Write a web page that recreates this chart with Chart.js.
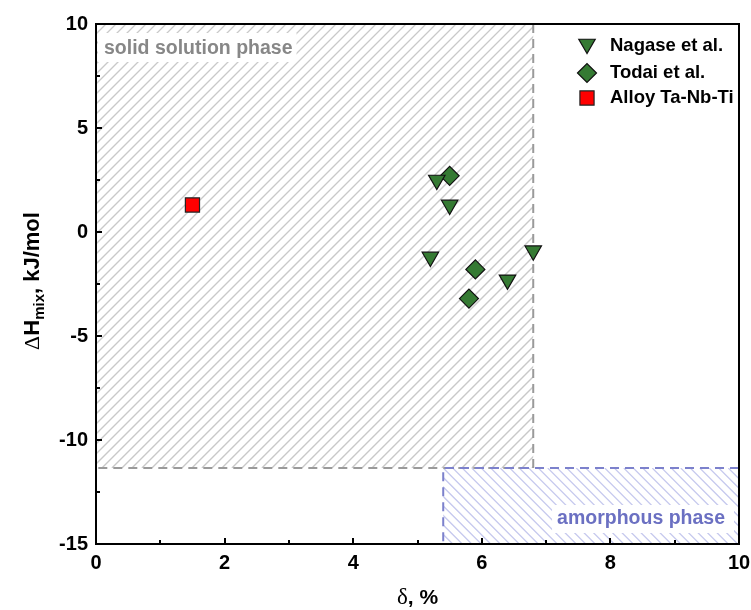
<!DOCTYPE html>
<html lang="en">
<head>
    <meta charset="UTF-8">
    <title>ΔHmix vs δ</title>
    <script src="https://cdn.jsdelivr.net/npm/chart.js"></script>
    <style>
        html, body { margin: 0; padding: 0; background: #fff; }
        #wrap { width: 751px; height: 610px; }
    </style>
</head>
<body>
    <div id="wrap"><canvas id="chart" width="751" height="610"></canvas></div>

    <script>
        // data
        const nagaseDelta = [5.3, 5.5, 5.2, 6.4, 6.8];
        const nagaseH = [2.5, 1.3, -1.2, -2.3, -0.9];
        const todaiDelta = [5.5, 5.9, 5.8];
        const todaiH = [2.7, -1.8, -3.2];
        const alloyDelta = [1.5];
        const alloyH = [1.3];

        const seriesNames = ['Nagase et al.', 'Todai et al.', 'Alloy Ta-Nb-Ti'];
        const xTicks = [0, 2, 4, 6, 8, 10];
        const yTicks = [-15, -10, -5, 0, 5, 10];

        // phase regions (delta range, dH range)
        const solidRegion = { x: [0, 6.8], y: [-11.35, 10] };
        const amorphRegion = { x: [5.4, 10], y: [-15, -11.35] };

        const FONT = '"Liberation Sans", Arial, sans-serif';
        const SERIF = '"Liberation Serif", "DejaVu Serif", serif';
        const green = '#357a33';

        const toPoints = (xs, ys) => xs.map((x, i) => ({ x: x, y: ys[i] }));

        function hatch(ctx, L, T, R, B, dir, color, step) {
            ctx.save();
            ctx.beginPath();
            ctx.rect(L, T, R - L, B - T);
            ctx.clip();
            ctx.strokeStyle = color;
            ctx.lineWidth = 1.3;
            ctx.beginPath();
            const H = B - T;
            for (let c = -H; c < R - L + H; c += step) {
                if (dir > 0) {
                    ctx.moveTo(L + c, B);
                    ctx.lineTo(L + c + H, T);
                } else {
                    ctx.moveTo(L + c, T);
                    ctx.lineTo(L + c + H, B);
                }
            }
            ctx.stroke();
            ctx.restore();
        }

        // draws a run of [text, font, dy] pieces centred on 0
        function drawRun(ctx, parts) {
            let total = 0;
            parts.forEach(p => { ctx.font = p[1]; total += ctx.measureText(p[0]).width; });
            let x = -total / 2;
            parts.forEach(p => {
                ctx.font = p[1];
                ctx.fillText(p[0], x, p[2]);
                x += ctx.measureText(p[0]).width;
            });
        }

        const regionsPlugin = {
            id: 'regions',
            beforeDatasetsDraw(chart) {
                const ctx = chart.ctx;
                const xs = chart.scales.x, ys = chart.scales.y;

                // solid solution region
                const L = xs.getPixelForValue(solidRegion.x[0]);
                const R = xs.getPixelForValue(solidRegion.x[1]);
                const T = ys.getPixelForValue(solidRegion.y[1]);
                const B = ys.getPixelForValue(solidRegion.y[0]);
                hatch(ctx, L, T, R, B, 1, '#c9c9c9', 10);

                // amorphous region
                const aL = xs.getPixelForValue(amorphRegion.x[0]);
                const aR = xs.getPixelForValue(amorphRegion.x[1]);
                const aT = ys.getPixelForValue(amorphRegion.y[1]);
                const aB = ys.getPixelForValue(amorphRegion.y[0]);
                hatch(ctx, aL, aT, aR, aB, -1, '#c6c9ee', 9.5);

                ctx.save();
                ctx.lineWidth = 2;
                ctx.setLineDash([9, 6]);
                ctx.strokeStyle = '#9a9a9a';
                ctx.beginPath();
                ctx.moveTo(R, T);
                ctx.lineTo(R, B);
                ctx.lineTo(L, B);
                ctx.stroke();

                ctx.strokeStyle = '#7c81cc';
                ctx.beginPath();
                ctx.moveTo(aR, aT);
                ctx.lineTo(aL, aT);
                ctx.lineTo(aL, aB);
                ctx.stroke();
                ctx.setLineDash([]);

                // labels with white boxes
                ctx.font = 'bold 19.5px ' + FONT;
                ctx.textBaseline = 'alphabetic';
                ctx.textAlign = 'left';
                const t1 = 'solid solution phase';
                const w1 = ctx.measureText(t1).width;
                ctx.fillStyle = '#fff';
                ctx.fillRect(L + 2, T + 9, w1 + 10, 29);
                ctx.fillStyle = '#878787';
                ctx.fillText(t1, L + 8, T + 30);

                const t2 = 'amorphous phase';
                const w2 = ctx.measureText(t2).width;
                ctx.fillStyle = '#fff';
                ctx.fillRect(aR - w2 - 19, aB - 39, w2 + 14, 28);
                ctx.fillStyle = '#6b70c2';
                ctx.fillText(t2, aR - w2 - 14, aB - 20);
                ctx.restore();
            },
            afterDraw(chart) {
                const ctx = chart.ctx;
                const a = chart.chartArea;
                const xs = chart.scales.x, ys = chart.scales.y;
                ctx.save();
                // inward ticks
                ctx.strokeStyle = '#000';
                ctx.lineWidth = 2;
                ctx.beginPath();
                for (let v = 0; v <= 10; v += 1) {
                    const px = Math.round(xs.getPixelForValue(v));
                    const len = v % 2 === 0 ? 6 : 4;
                    ctx.moveTo(px, a.bottom);
                    ctx.lineTo(px, a.bottom - len);
                }
                for (let v = -15; v <= 10; v += 2.5) {
                    const py = Math.round(ys.getPixelForValue(v));
                    const len = v % 5 === 0 ? 6 : 4;
                    ctx.moveTo(a.left, py);
                    ctx.lineTo(a.left + len, py);
                }
                ctx.stroke();

                // frame
                ctx.beginPath();
                ctx.rect(a.left, a.top, a.right - a.left, a.bottom - a.top);
                ctx.stroke();

                ctx.fillStyle = '#000';
                ctx.textBaseline = 'middle';
                ctx.textAlign = 'left';

                // x title
                ctx.translate((a.left + a.right) / 2, 598);
                drawRun(ctx, [
                    ['\u03b4', '23px ' + SERIF, 0],
                    [', %', 'bold 21px ' + FONT, 0]
                ]);
                ctx.setTransform(1, 0, 0, 1, 0, 0);

                // y title with subscript
                ctx.translate(33, (a.top + a.bottom) / 2 - 3);
                ctx.rotate(-Math.PI / 2);
                drawRun(ctx, [
                    ['\u0394', '22px ' + SERIF, 0],
                    ['H', 'bold 22px ' + FONT, 0],
                    ['mix', 'bold 15px ' + FONT, 7],
                    [', kJ/mol', 'bold 22px ' + FONT, 0]
                ]);
                ctx.setTransform(1, 0, 0, 1, 0, 0);

                // legend
                const rows = [46, 73, 98];
                chart.data.datasets.forEach((ds, i) => {
                    ctx.save();
                    ctx.fillStyle = ds.backgroundColor;
                    ctx.strokeStyle = ds.borderColor;
                    ctx.lineWidth = ds.borderWidth;
                    Chart.helpers.drawPoint(ctx, {
                        pointStyle: ds.pointStyle,
                        rotation: ds.rotation || 0,
                        radius: ds.pointRadius,
                        borderWidth: ds.borderWidth
                    }, 587, rows[i] + (ds.pointStyle === 'triangle' ? -2 : 0));
                    ctx.restore();
                    ctx.fillStyle = '#000';
                    ctx.font = 'bold 18.5px ' + FONT;
                    ctx.textAlign = 'left';
                    ctx.textBaseline = 'middle';
                    ctx.fillText(seriesNames[i], 610, rows[i]);
                });
                ctx.restore();
            }
        };

        const chart = new Chart(document.getElementById('chart'), {
            type: 'scatter',
            data: {
                datasets: [{
                    label: seriesNames[0],
                    data: toPoints(nagaseDelta, nagaseH),
                    pointStyle: 'triangle',
                    rotation: 180,
                    pointRadius: 9.5,
                    pointHoverRadius: 9.5,
                    backgroundColor: green,
                    borderColor: '#111',
                    borderWidth: 1.2
                }, {
                    label: seriesNames[1],
                    data: toPoints(todaiDelta, todaiH),
                    pointStyle: 'rectRot',
                    pointRadius: 9.5,
                    pointHoverRadius: 9.5,
                    backgroundColor: green,
                    borderColor: '#111',
                    borderWidth: 1.2
                }, {
                    label: seriesNames[2],
                    data: toPoints(alloyDelta, alloyH),
                    pointStyle: 'rect',
                    pointRadius: 10,
                    pointHoverRadius: 10,
                    backgroundColor: '#ff0000',
                    borderColor: '#222',
                    borderWidth: 1.2
                }]
            },
            options: {
                responsive: false,
                animation: false,
                layout: { padding: { top: 24, right: 12, left: 0, bottom: 0 } },
                plugins: {
                    legend: { display: false },
                    tooltip: { enabled: false }
                },
                scales: {
                    x: {
                        type: 'linear',
                        min: 0,
                        max: 10,
                        afterBuildTicks: s => { s.ticks = xTicks.map(v => ({ value: v })); },
                        afterFit: s => {
                            s.height = 66;
                            s.paddingLeft = 0;
                            s.paddingRight = 0;
                        },
                        grid: { display: false, drawTicks: false },
                        border: { display: true, color: '#000', width: 2 },
                        ticks: {
                            padding: 7,
                            color: '#000',
                            font: { family: FONT, size: 20, weight: 'bold' }
                        }
                    },
                    y: {
                        type: 'linear',
                        min: -15,
                        max: 10,
                        afterBuildTicks: s => { s.ticks = yTicks.map(v => ({ value: v })); },
                        afterFit: s => {
                            s.width = 96;
                            s.paddingTop = 0;
                            s.paddingBottom = 0;
                        },
                        grid: { display: false, drawTicks: false },
                        border: { display: true, color: '#000', width: 2 },
                        ticks: {
                            padding: 8,
                            color: '#000',
                            font: { family: FONT, size: 20, weight: 'bold' }
                        }
                    }
                }
            },
            plugins: [regionsPlugin]
        });
    </script>
</body>
</html>
